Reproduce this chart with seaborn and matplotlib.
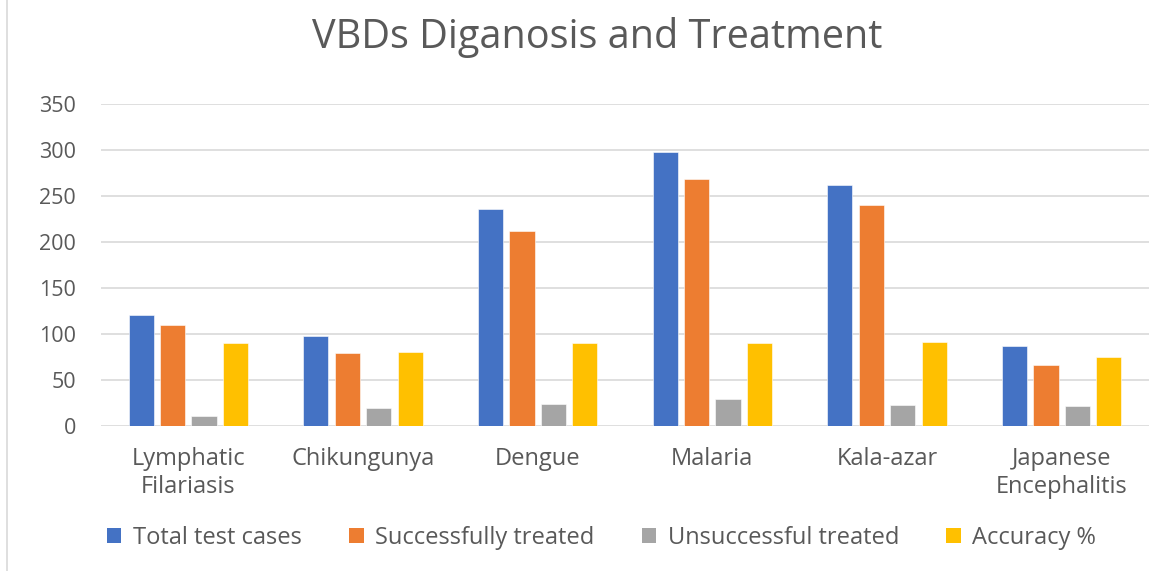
import pandas as pd
import seaborn as sns
import matplotlib.pyplot as plt
from matplotlib.patches import Patch
from matplotlib.lines import Line2D

# data
diseases = ['Lymphatic\nFilariasis', 'Chikungunya', 'Dengue', 'Malaria', 'Kala-azar', 'Japanese\nEncephalitis']
total_cases = [120, 98, 235, 297, 262, 87]
success_treated = [109, 79, 212, 268, 240, 66]
unsuccess_treated = [11, 19, 24, 29, 22, 21]
accuracy = [90, 80, 90, 90, 91, 75]
series_names = ['Total test cases', 'Successfully treated', 'Unsuccessful treated', 'Accuracy %']
colors = ['#4472C4', '#ED7D31', '#A5A5A5', '#FFC000']

rows = []
for name, vals in zip(series_names, [total_cases, success_treated, unsuccess_treated, accuracy]):
    for d, v in zip(diseases, vals):
        rows.append({'Disease': d, 'Value': v, 'Series': name})
df = pd.DataFrame(rows)

sns.set_style('white')
plt.rcParams['font.family'] = ['Open Sans', 'DejaVu Sans']
txt = '#595959'

fig = plt.figure(figsize=(11.73, 5.71), dpi=100)
ax = fig.add_axes([101/1173, 1 - 425.7/571, (1149-101)/1173, (425.7-103.7)/571])

sns.barplot(data=df, x='Disease', y='Value', hue='Series', palette=colors, saturation=1,
            width=0.72, gap=0.2, edgecolor='white', linewidth=0.4, ax=ax, legend=False)

ax.set_ylim(0, 350)
ax.set_yticks(range(0, 351, 50))
ax.set_xlim(-0.5, 5.5)
ax.grid(axis='y', color='#D9D9D9', linewidth=1.2)
ax.set_axisbelow(True)
for s in ax.spines.values():
    s.set_visible(False)
ax.set_xlabel('')
ax.set_ylabel('')
ax.tick_params(axis='y', length=0, pad=18, labelsize=15.5, labelcolor=txt)
ax.tick_params(axis='x', length=0, pad=15, labelsize=17, labelcolor=txt)
for lab in ax.get_xticklabels():
    lab.set_linespacing(1.25)

fig.suptitle('VBDs Diganosis and Treatment', x=0.509, y=0.97, fontsize=28.5, color=txt)

handles = [Patch(facecolor=c, edgecolor='none') for c in colors]
fig.legend(handles, series_names, loc='center', bbox_to_anchor=(0.513, 1 - 538/571), ncol=4,
           frameon=False, fontsize=17, labelcolor=txt, handlelength=0.6, handleheight=0.6,
           handletextpad=0.5, columnspacing=2.0)

# chart border on the left
fig.add_artist(Line2D([7/1173, 7/1173], [0, 1], color='#D9D9D9', linewidth=1.2))

fig.savefig('out.png', dpi=100)
